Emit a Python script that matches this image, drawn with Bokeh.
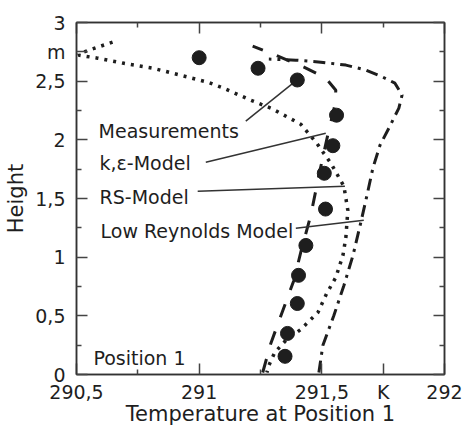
from bokeh.plotting import figure
from bokeh.models import Range1d, LinearAxis, FixedTicker
from bokeh.core.properties import value
from bokeh.embed import file_html
from bokeh.resources import INLINE

# Measurements (temperature in K, height in m)
meas_T = [291.00, 291.24, 291.40, 291.56, 291.545, 291.51, 291.515, 291.435, 291.405, 291.40, 291.36, 291.35]
meas_h = [2.70, 2.61, 2.51, 2.21, 1.95, 1.715, 1.41, 1.10, 0.845, 0.605, 0.35, 0.155]

# RS-Model (dotted)
rs_T = [290.647, 290.516, 290.508, 290.586, 290.688, 290.810, 290.924, 291.035, 291.100, 291.210,
        291.292, 291.361, 291.414, 291.476, 291.537, 291.590, 291.606, 291.598, 291.586, 291.557,
        291.520, 291.484, 291.414, 291.353, 291.308, 291.284, 291.276]
rs_h = [2.833, 2.739, 2.722, 2.696, 2.654, 2.611, 2.551, 2.491, 2.440, 2.338,
        2.270, 2.193, 2.133, 1.980, 1.800, 1.604, 1.399, 1.169, 1.015, 0.828,
        0.691, 0.529, 0.384, 0.290, 0.188, 0.077, 0.017]

# k,epsilon-Model (long dashes)
ke_T = [291.259, 291.292, 291.341, 291.386, 291.414, 291.455, 291.488, 291.524, 291.553, 291.557,
        291.516, 291.427, 291.312, 291.218]
ke_h = [0.017, 0.265, 0.546, 0.802, 1.041, 1.357, 1.698, 2.039, 2.295, 2.423,
        2.527, 2.620, 2.722, 2.799]

# Low Reynolds Model (dash-dot)
lr_T = [291.488, 291.504, 291.549, 291.590, 291.627, 291.659, 291.684, 291.708, 291.737, 291.773,
        291.814, 291.827, 291.798, 291.749, 291.680, 291.598, 291.496, 291.394, 291.284]
lr_h = [0.017, 0.247, 0.503, 0.759, 1.015, 1.297, 1.527, 1.758, 1.954, 2.099,
        2.270, 2.381, 2.483, 2.534, 2.594, 2.637, 2.662, 2.679, 2.688]

# Ticks (unit labels K and m sit on a tick position)
x_ticks = [290.5, 291.0, 291.5, 291.75, 292.0]
x_tick_labels = ["290,5", "291", "291,5", "K", "292"]
x_minor = [290.75, 291.25]
y_ticks = [0.0, 0.5, 1.0, 1.5, 2.0, 2.5, 2.75, 3.0]
y_tick_labels = ["0", "0,5", "1", "1,5", "2", "2,5", "m", "3"]
y_minor = [0.25, 0.75, 1.25, 1.75, 2.25]
x_ticks_frame = [290.5, 291.0, 291.5, 292.0]
x_minor_frame = [290.75, 291.25, 291.75]
y_ticks_frame = [0.0, 0.5, 1.0, 1.5, 2.0, 2.5, 3.0]
y_minor_frame = [0.25, 0.75, 1.25, 1.75, 2.25, 2.75]

# Legend-like labels and their leader lines
label_texts = ["Measurements", "k,ε-Model", "RS-Model", "Low Reynolds Model", "Position 1"]
label_T = [290.590, 290.594, 290.594, 290.598, 290.569]
label_h = [2.073, 1.800, 1.510, 1.220, 0.137]
leader_T0 = [291.190, 291.027, 290.994, 291.394]
leader_h0 = [2.159, 1.809, 1.561, 1.246]
leader_T1 = [291.398, 291.516, 291.594, 291.671]
leader_h1 = [2.509, 2.056, 1.604, 1.314]

FONT = "DejaVu Sans"
INK = "#1e1e1e"

p = figure(width=464, height=430, x_range=Range1d(290.5, 292.0), y_range=Range1d(0, 3),
           output_backend="svg", toolbar_location=None,
           min_border_left=76, min_border_right=20, min_border_top=22, min_border_bottom=56,
           x_axis_label="Temperature at Position 1", y_axis_label="Height")
p.grid.visible = False
p.background_fill_color = "white"
p.border_fill_color = "white"
p.outline_line_color = "#333333"
p.outline_line_width = 1.5

def style_axis(ax, ticks, minor, labels):
    ax.ticker = FixedTicker(ticks=ticks, minor_ticks=minor)
    ax.major_tick_in = 11
    ax.major_tick_out = 0
    ax.minor_tick_in = 5
    ax.minor_tick_out = 0
    ax.axis_line_color = "#333333"
    ax.axis_line_width = 1.5
    ax.major_tick_line_color = "#444444"
    ax.minor_tick_line_color = "#444444"
    ax.major_tick_line_width = 1.5
    ax.minor_tick_line_width = 1.5
    if labels is None:
        ax.major_label_overrides = {t: "" for t in ticks}
        ax.major_label_text_font_size = "1px"
        ax.major_label_standoff = 0
    else:
        ax.major_label_overrides = {t: s for t, s in zip(ticks, labels)}
        ax.major_label_text_font = FONT
        ax.major_label_text_font_size = "19px"
        ax.major_label_text_color = INK
        ax.axis_label_text_font = FONT
        ax.axis_label_text_font_size = "21px"
        ax.axis_label_text_font_style = "normal"
        ax.axis_label_text_color = INK

style_axis(p.xaxis[0], x_ticks, x_minor, x_tick_labels)
style_axis(p.yaxis[0], y_ticks, y_minor, y_tick_labels)
p.xaxis[0].major_label_standoff = 6
p.xaxis[0].axis_label_standoff = -4
p.yaxis[0].major_label_standoff = 11
p.yaxis[0].axis_label_standoff = 4

top_ax = LinearAxis()
style_axis(top_ax, x_ticks_frame, x_minor_frame, None)
p.add_layout(top_ax, "above")
right_ax = LinearAxis()
style_axis(right_ax, y_ticks_frame, y_minor_frame, None)
p.add_layout(right_ax, "right")

# Model curves
p.line(rs_T, rs_h, line_color=INK, line_width=3.5, line_dash="3 6")
p.line(ke_T, ke_h, line_color=INK, line_width=3, line_dash="14 15")
p.line(lr_T, lr_h, line_color=INK, line_width=3, line_dash="12 6 3 6")

# Leader lines
p.segment(leader_T0, leader_h0, leader_T1, leader_h1, line_color="#333333", line_width=1.5)

# Measurements
p.scatter(meas_T, meas_h, size=14, marker="circle", fill_color=INK, line_color=INK)

# Text labels
p.text(label_T, label_h, text=label_texts, text_font=value(FONT), text_font_size="19px",
       text_color=INK, text_baseline="alphabetic", text_align="left")

open("out.html", "w").write(file_html(p, INLINE))
